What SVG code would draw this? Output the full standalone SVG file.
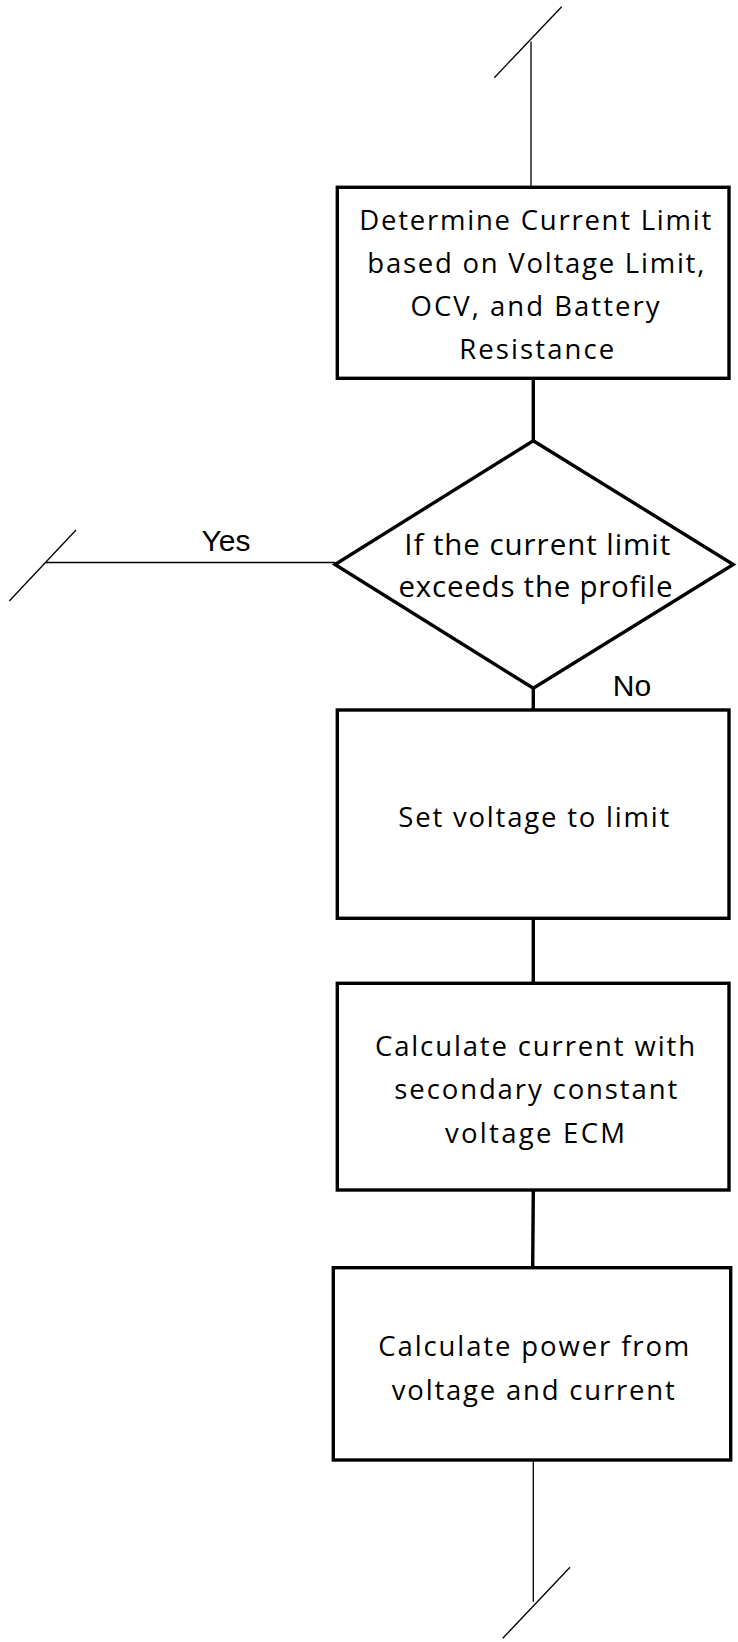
<svg xmlns="http://www.w3.org/2000/svg" width="738" height="1642" viewBox="0 0 738 1642">
<style>
.bg{fill:#ffffff}
.node{fill:#ffffff;stroke:#000000;stroke-width:3.4;stroke-linejoin:miter}
.thin{stroke:#000000;stroke-width:1.3;fill:none}
.thick{stroke:#000000;stroke-width:3.4;fill:none}
.t{font-family:"Open Sans",Lato,"Liberation Sans",sans-serif;font-size:27.5px;fill:#000000;text-anchor:middle}
.td{font-family:"Open Sans",Lato,"Liberation Sans",sans-serif;font-size:29.5px;fill:#000000;text-anchor:middle}
.lbl{font-family:"Liberation Sans",Arial,sans-serif;font-size:30px;fill:#000000;text-anchor:middle}
</style>
<rect class="bg" x="0" y="0" width="738" height="1642"/>
<g id="connectors">
<line class="thin" x1="531" y1="41.5" x2="531" y2="187"/>
<line class="thin" x1="561.7" y1="6.7" x2="494.3" y2="77.7"/>
<line class="thick" x1="533.3" y1="378" x2="533.3" y2="441"/>
<line class="thin" x1="45" y1="562.5" x2="335" y2="562.5"/>
<line class="thin" x1="76" y1="530" x2="9.3" y2="601"/>
<line class="thick" x1="533.3" y1="688" x2="533.3" y2="710"/>
<line class="thick" x1="533.3" y1="918" x2="533.3" y2="983"/>
<line class="thick" x1="533.3" y1="1190" x2="532.7" y2="1268"/>
<line class="thin" x1="533.3" y1="1460" x2="533.3" y2="1601.7"/>
<line class="thin" x1="570" y1="1567.3" x2="502.7" y2="1638.3"/>
<text class="lbl" x="226" y="550.5">Yes</text>
<text class="lbl" x="632" y="695.7">No</text>
</g>
<g id="node-determine">
<rect class="node" x="337.3" y="187.3" width="391.7" height="191"/>
<text class="t" x="535.3" y="229.5" textLength="352" lengthAdjust="spacing">Determine Current Limit</text>
<text class="t" x="535.8" y="272.5" textLength="337" lengthAdjust="spacing">based on Voltage Limit,</text>
<text class="t" x="535" y="315.5" textLength="249" lengthAdjust="spacing">OCV, and Battery</text>
<text class="t" x="536.7" y="358.5" textLength="155" lengthAdjust="spacing">Resistance</text>
</g>
<g id="node-decision">
<polygon class="node" points="533.3,440.7 733.3,564.5 533.3,688.3 335,564.5"/>
<text class="td" x="537.2" y="555" textLength="266" lengthAdjust="spacing">If the current limit</text>
<text class="td" x="535.5" y="596.7" textLength="274" lengthAdjust="spacing">exceeds the profile</text>
</g>
<g id="node-setvoltage">
<rect class="node" x="337.3" y="710" width="391.7" height="208.3"/>
<text class="t" x="533.8" y="826.7" textLength="271" lengthAdjust="spacing">Set voltage to limit</text>
</g>
<g id="node-current">
<rect class="node" x="337.3" y="983.3" width="391.7" height="206.7"/>
<text class="t" x="535" y="1056" textLength="320" lengthAdjust="spacing">Calculate current with</text>
<text class="t" x="535.8" y="1099.3" textLength="283" lengthAdjust="spacing">secondary constant</text>
<text class="t" x="535" y="1143.3" textLength="180" lengthAdjust="spacing">voltage ECM</text>
</g>
<g id="node-power">
<rect class="node" x="333.3" y="1267.7" width="397.4" height="192.3"/>
<text class="t" x="533.8" y="1356" textLength="311" lengthAdjust="spacing">Calculate power from</text>
<text class="t" x="533.3" y="1400" textLength="283" lengthAdjust="spacing">voltage and current</text>
</g>
</svg>
